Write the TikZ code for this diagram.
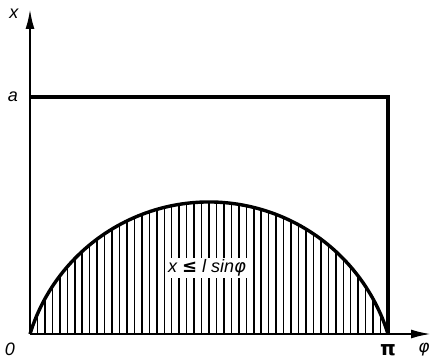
\documentclass[tikz,border=0pt]{standalone}
\usepackage{fontspec}
\setmainfont{Liberation Sans}
\newfontfamily\symfont{DejaVu Sans}
\usetikzlibrary{arrows.meta}
\begin{document}
\begin{tikzpicture}[x=1pt,y=1pt,
  axisline/.style={line width=2.2pt,-{Latex[length=20pt,width=9pt]}},
  frame/.style={line width=3.4pt},
  curve/.style={line width=3.4pt},
  hatchline/.style={line width=1.5pt},
  lab/.style={font=\fontsize{18}{18}\selectfont\itshape,inner sep=1pt}]
\useasboundingbox (-30,-28) rectangle (406,334);
\coordinate (O) at (0,0);
\coordinate (ytop) at (0,325);
\coordinate (xend) at (401,0);
\coordinate (A) at (0,237);
\coordinate (P) at (358,0);
\coordinate (PA) at (358,237);
% hatch (under a circular arc through O, P and the top at height 132)
\foreach \i in {1,...,47}{
  \pgfmathsetmacro{\xx}{\i*7.4583}
  \pgfmathsetmacro{\dd}{(\xx-179)/10}
  \pgfmathsetmacro{\yy}{10*sqrt(351.064-\dd*\dd)-55.367}
  \draw[hatchline] (\xx,0) -- (\xx,\yy);
}
\node[lab,fill=white,inner sep=2pt] (ineq) at (177,66) {x {\symfont\upshape\bfseries ≤} l sin{\symfont φ}};
% frame
\draw[frame] (A) -- (PA) -- (P);
\draw[curve] (O) arc[start angle=162.81, end angle=17.19, radius=187.367];
\draw[axisline] (O) -- (ytop);
\draw[axisline] (O) -- (xend);
\node[lab] (lx) at (-16,320) {x};
\node[lab] (la) at (-17,237) {a};
\node[lab] (l0) at (-20,-15) {0};
\node[font=\fontsize{20}{20}\selectfont\symfont\bfseries,inner sep=0pt] (lpi) at (358,-16) {π};
\node[font=\fontsize{17}{17}\selectfont\symfont\itshape,inner sep=0pt] (lphi) at (394,-16) {φ};
\end{tikzpicture}
\end{document}
